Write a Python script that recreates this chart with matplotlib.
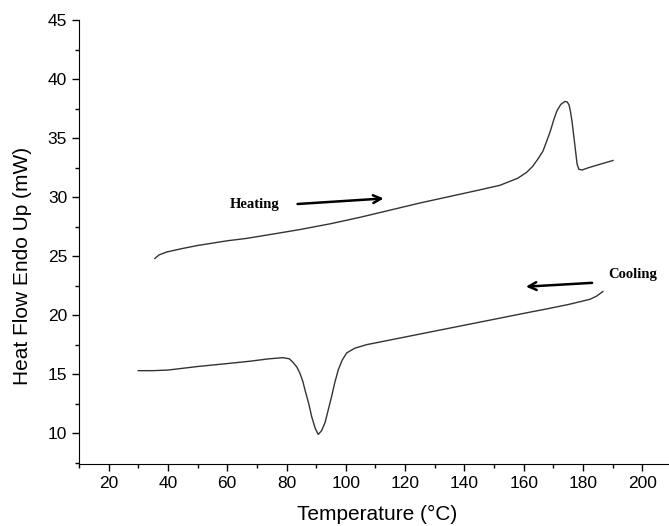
import matplotlib.pyplot as plt
from matplotlib.ticker import MultipleLocator

# heating scan
heat_x = [35.6, 37, 39.6, 45, 50, 60, 66.5, 75, 84.5, 95, 105, 115, 125, 135, 145, 152,
          158, 161, 163, 165, 166.5, 168, 169, 170.2, 171.2, 172.5, 173.9, 174.7, 175.3,
          175.8, 176.3, 177.3, 178, 178.6, 179.7, 182, 186, 190.1]
heat_y = [24.8, 25.1, 25.35, 25.65, 25.9, 26.3, 26.5, 26.85, 27.25, 27.75, 28.3, 28.9,
          29.5, 30.05, 30.6, 31.0, 31.6, 32.1, 32.6, 33.3, 33.9, 34.9, 35.6, 36.6, 37.3,
          37.85, 38.1, 38.05, 37.8, 37.2, 36.4, 34.3, 32.8, 32.35, 32.3, 32.5, 32.8, 33.1]

# cooling scan
cool_x = [30, 35, 40, 50, 60, 67.7, 74, 78.8, 81, 82.2, 83.5, 84.5, 85.5, 86.2, 87.5,
          88.5, 89.7, 90.7, 91.8, 93, 94, 95.2, 96.3, 97.5, 98.8, 100.3, 103, 107, 115,
          125, 135, 145, 155, 162, 167.2, 175, 180, 182.4, 184.5, 186.7]
cool_y = [15.3, 15.3, 15.35, 15.65, 15.9, 16.1, 16.3, 16.4, 16.3, 16.0, 15.6, 15.1, 14.4,
          13.7, 12.5, 11.4, 10.4, 9.9, 10.2, 10.9, 11.9, 13.1, 14.3, 15.4, 16.2, 16.8,
          17.2, 17.5, 17.9, 18.4, 18.9, 19.4, 19.9, 20.25, 20.5, 20.9, 21.2, 21.35, 21.6, 22.0]

plt.rcParams['font.family'] = ['Liberation Sans', 'DejaVu Sans']

fig = plt.figure(figsize=(6.69, 5.26), dpi=100)
ax = fig.add_axes([0.118, 0.118, 0.882, 0.844])

ax.plot(heat_x, heat_y, color='#333333', lw=1.0)
ax.plot(cool_x, cool_y, color='#333333', lw=1.0)

# annotations
ax.text(69.3, 29.4, 'Heating', family='Liberation Serif', fontweight='bold',
        fontsize=10.5, ha='center', va='center')
ax.annotate('', xy=(113.7, 29.9), xytext=(82.8, 29.4),
            arrowprops=dict(arrowstyle='->', lw=1.8, color='black', mutation_scale=14))
ax.text(196.7, 23.45, 'Cooling', family='Liberation Serif', fontweight='bold',
        fontsize=10.5, ha='center', va='center')
ax.annotate('', xy=(159.8, 22.4), xytext=(184, 22.75),
            arrowprops=dict(arrowstyle='->', lw=1.8, color='black', mutation_scale=14))

ax.set_xlim(10, 209)
ax.set_ylim(7.4, 45)
ax.xaxis.set_minor_locator(MultipleLocator(10))
ax.yaxis.set_minor_locator(MultipleLocator(2.5))
ax.set_xticks([20, 40, 60, 80, 100, 120, 140, 160, 180, 200])
ax.set_yticks([10, 15, 20, 25, 30, 35, 40, 45])

ax.tick_params(which='major', direction='out', length=5, width=1, labelsize=12.5, colors='black')
ax.tick_params(which='minor', direction='out', length=3, width=1)
ax.spines['top'].set_visible(False)
ax.spines['right'].set_visible(False)

ax.set_xlabel('Temperature (°C)', fontsize=15)
ax.set_ylabel('Heat Flow Endo Up (mW)', fontsize=15)
ax.xaxis.set_label_coords(0.505, -0.093)
ax.yaxis.set_label_coords(-0.08, 0.445)

fig.savefig('out.png', dpi=100)
